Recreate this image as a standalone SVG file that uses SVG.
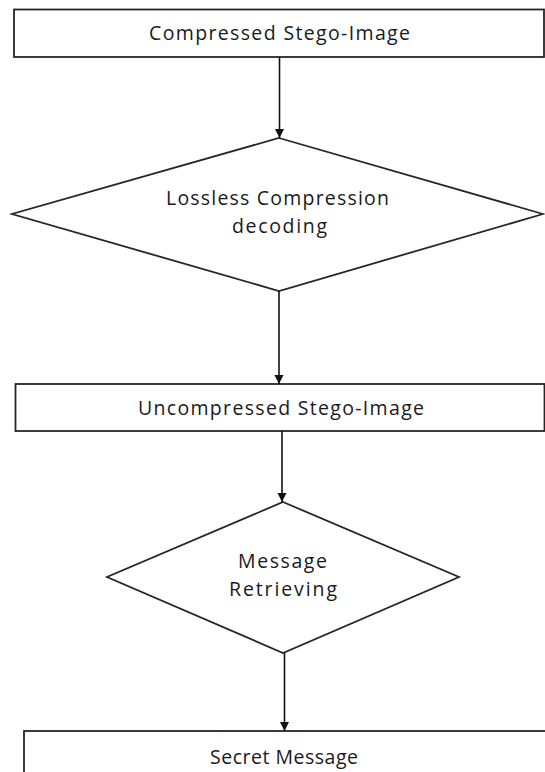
<svg xmlns="http://www.w3.org/2000/svg" width="545" height="772" viewBox="0 0 545 772">
<style>
.shape{fill:#fff;stroke:#262626;stroke-width:1.8}
.lbl{font-family:"Open Sans","Liberation Sans",sans-serif;font-size:19.5px;fill:#1a1a1a;text-anchor:middle}
.conn{stroke:#111;stroke-width:1.6;fill:none}
</style>
<defs>
<marker id="arr" viewBox="0 0 10 10" refX="10" refY="5" markerWidth="9" markerHeight="10" markerUnits="userSpaceOnUse" orient="auto">
<path d="M0,0 L10,5 L0,10 z" fill="#111"/>
</marker>
</defs>
<rect width="545" height="772" fill="#fff"/>
<g id="n1">
<rect class="shape" x="14" y="9.5" width="530" height="47.5"/>
<text class="lbl" x="279.5" y="40" textLength="261" lengthAdjust="spacing">Compressed Stego-Image</text>
</g>
<g id="n2">
<polygon class="shape" points="279,138 543,214 279,291 12,214"/>
<text class="lbl" x="277.5" y="205" textLength="223" lengthAdjust="spacing">Lossless Compression</text>
<text class="lbl" x="279.5" y="233" textLength="95" lengthAdjust="spacing">decoding</text>
</g>
<g id="n3">
<rect class="shape" x="15.5" y="384" width="529" height="47"/>
<text class="lbl" x="281" y="415" textLength="286" lengthAdjust="spacing">Uncompressed Stego-Image</text>
</g>
<g id="n4">
<polygon class="shape" points="283,502 459,577 283,653 107,577"/>
<text class="lbl" x="282.5" y="568" textLength="89" lengthAdjust="spacing">Message</text>
<text class="lbl" x="283" y="596" textLength="108" lengthAdjust="spacing">Retrieving</text>
</g>
<g id="n5">
<rect class="shape" x="24" y="731" width="530" height="60"/>
<text class="lbl" x="284" y="764" textLength="148" lengthAdjust="spacing">Secret Message</text>
</g>
<g id="connectors">
<line class="conn" x1="279.5" y1="57" x2="279.5" y2="138" marker-end="url(#arr)"/>
<line class="conn" x1="279" y1="291" x2="279" y2="384" marker-end="url(#arr)"/>
<line class="conn" x1="282" y1="431" x2="282" y2="502" marker-end="url(#arr)"/>
<line class="conn" x1="284.5" y1="653" x2="284.5" y2="731" marker-end="url(#arr)"/>
</g>
</svg>
